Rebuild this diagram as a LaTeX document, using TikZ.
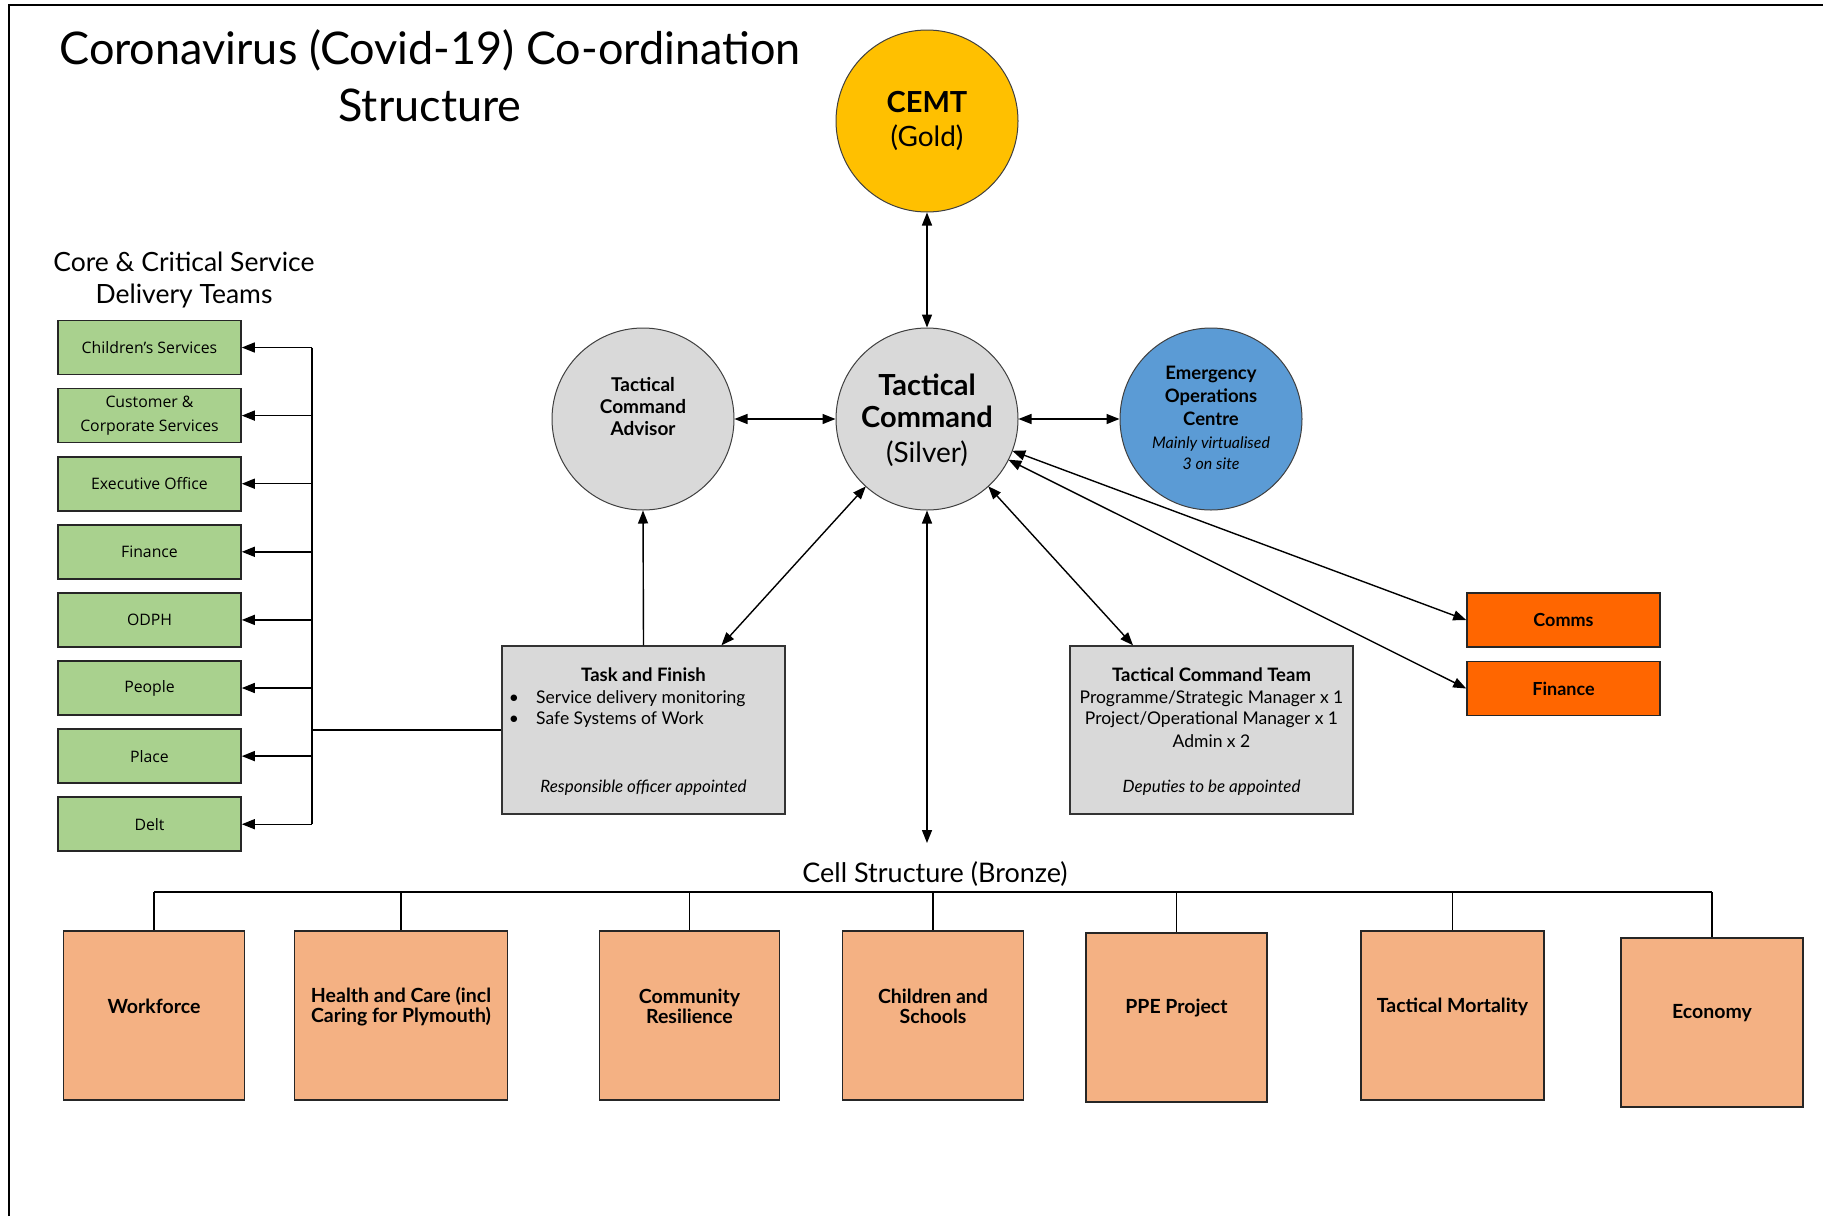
\documentclass[tikz,border=0pt]{standalone}
\usepackage{fontspec}
\setmainfont{Lato}
\newfontfamily\greenfont{Open Sans}
\usetikzlibrary{arrows.meta,calc}
\definecolor{cgold}{HTML}{FFC000}
\definecolor{csilver}{HTML}{D9D9D9}
\definecolor{cblue}{HTML}{5B9BD5}
\definecolor{cgreen}{HTML}{A9D18E}
\definecolor{corange}{HTML}{FF6600}
\definecolor{cbronze}{HTML}{F4B183}
\newcommand{\fs}[1]{\fontsize{#1}{#1}\selectfont}
\begin{document}
\begin{tikzpicture}[x=1pt,y=-1pt,
  conn/.style={line width=1.4pt, draw=black},
  arr/.style={conn,-{Triangle[length=13pt,width=10pt]}},
  darr/.style={conn,{Triangle[length=13pt,width=10pt]}-{Triangle[length=13pt,width=10pt]}},
  circ/.style={circle, draw=black!75, line width=1pt, minimum size=182pt, inner sep=0pt},
  txt/.style={anchor=base, inner sep=0pt},
  gbox/.style={draw=black!85, line width=1.6pt, fill=cgreen, minimum width=183pt, minimum height=54pt, inner sep=0pt, align=center, font=\greenfont\fontsize{15.8}{24}\selectfont},
  obox/.style={draw=black!85, line width=1.6pt, fill=corange, minimum width=193pt, minimum height=54pt, inner sep=0pt, font=\bfseries\fs{18}},
  bbox/.style={draw=black!85, line width=1.8pt, fill=cbronze, minimum width=181pt, minimum height=169pt, inner sep=0pt},
  btxt/.style={align=center, inner sep=0pt, font=\bfseries\fs{19.5}},
  gbox2/.style={draw=black!80, line width=1.4pt, fill=csilver, minimum width=283pt, minimum height=168pt, inner sep=0pt}
]
\useasboundingbox (0,0) rectangle (1823,1216);
\fill[white] (0,0) rectangle (1823,1216);
\draw[line width=2pt] (9,1216) -- (9,5) -- (1823,5);

% title
\node[txt, font=\fs{45}] (title1) at (430,64) {Coronavirus (Covid-19) Co-ordination};
\node[txt, font=\fs{45}] (title2) at (430,121) {Structure};

% circles
\node[circ, fill=cgold] (cemt) at (927,121) {};
\node[txt, font=\bfseries\fs{29}] (cemt1) at (927,112) {CEMT};
\node[txt, font=\fs{28}] (cemt2) at (927,146) {(Gold)};

\node[circ, fill=csilver] (tc) at (927,419) {};
\node[txt, font=\bfseries\fs{29}] (tc1) at (927,395) {Tactical};
\node[txt, font=\bfseries\fs{29}] (tc2) at (927,427) {Command};
\node[txt, font=\fs{28}] (tc3) at (927,462) {(Silver)};

\node[circ, fill=csilver] (adv) at (643,419) {};
\node[txt, font=\bfseries\fs{19}] (adv1) at (643,391) {Tactical};
\node[txt, font=\bfseries\fs{19}] (adv2) at (643,413) {Command};
\node[txt, font=\bfseries\fs{19}] (adv3) at (643,435) {Advisor};

\node[circ, fill=cblue] (eoc) at (1211,419) {};
\node[txt, font=\bfseries\fs{18.5}] (eoc1) at (1211,379) {Emergency};
\node[txt, font=\bfseries\fs{18.5}] (eoc2) at (1211,402) {Operations};
\node[txt, font=\bfseries\fs{18.5}] (eoc3) at (1211,425) {Centre};
\node[txt, font=\itshape\fs{16}] (eoc4) at (1211,448) {Mainly virtualised};
\node[txt, font=\itshape\fs{16}] (eoc5) at (1211,469) {3 on site};

% circle connectors
\draw[darr] (cemt.south) -- (tc.north);
\draw[darr] (adv.east) -- (tc.west);
\draw[darr] (tc.east) -- (eoc.west);

% core teams heading
\node[txt, font=\fs{26.5}] (core1) at (184,271) {Core \& Critical Service};
\node[txt, font=\fs{26.5}] (core2) at (184,303) {Delivery Teams};

% green boxes
\node[gbox] (g1) at (149.5,347.5) {Children’s Services};
\node[gbox] (g2) at (149.5,415.6) {Customer \&\\Corporate Services};
\node[gbox] (g3) at (149.5,483.7) {Executive Office};
\node[gbox] (g4) at (149.5,551.8) {Finance};
\node[gbox] (g5) at (149.5,619.9) {ODPH};
\node[gbox] (g6) at (149.5,688.0) {People};
\node[gbox] (g7) at (149.5,756.1) {Place};
\node[gbox] (g8) at (149.5,824.2) {Delt};

\coordinate (busx) at (312,0);
\draw[conn] (busx |- g1.east) -- (busx |- g8.east);
\foreach \g in {g1,g2,g3,g4,g5,g6,g7,g8}{
  \draw[arr] (busx |- \g.east) -- (\g.east);
}

% task and finish
\node[gbox2] (task) at (643.5,730) {};
\node[txt, font=\bfseries\fs{18.5}] (task1) at (643.5,681) {Task and Finish};
\node[txt, font=\fs{17.5}] (tb1) at (514,703) {•};
\node[txt, font=\fs{17.5}] (tb2) at (514,724) {•};
\node[txt, anchor=base west, font=\fs{17.5}] (task2) at (536,703) {Service delivery monitoring};
\node[txt, anchor=base west, font=\fs{17.5}] (task3) at (536,724) {Safe Systems of Work};
\node[txt, font=\itshape\fs{17}] (task4) at (643.5,792) {Responsible officer appointed};

\draw[conn] (task.west) -- (task.west -| busx);
\draw[arr] (task.north) -- (adv.south);
\coordinate (taskend) at ($(task.north west)!0.774!(task.north east)$);
\draw[darr] (taskend) -- ($(tc.center)!91pt!(taskend)$);

% tactical command team
\node[gbox2] (tct) at (1211.5,730) {};
\node[txt, font=\bfseries\fs{18.5}] (tct1) at (1211.5,681) {Tactical Command Team};
\node[txt, font=\fs{17.5}] (tct2) at (1211.5,703) {Programme/Strategic Manager x 1};
\node[txt, font=\fs{17.5}] (tct3) at (1211.5,724) {Project/Operational Manager x 1};
\node[txt, font=\fs{17.5}] (tct4) at (1211.5,747) {Admin x 2};
\node[txt, font=\itshape\fs{17}] (tct5) at (1211.5,792) {Deputies to be appointed};
\coordinate (tctend) at ($(tct.north west)!0.224!(tct.north east)$);
\draw[darr] (tctend) -- ($(tc.center)!91pt!(tctend)$);

% comms / finance
\node[obox] (comms) at (1563.5,620) {Comms};
\node[obox] (fin) at (1563.5,688.5) {Finance};
\draw[darr] ($(tc.center)!91pt!(comms.west)$) -- (comms.west);
\draw[darr] ($(tc.center)!91pt!(fin.west)$) -- (fin.west);

% vertical to cell structure
\coordinate (cellend) at (927,843);
\draw[darr] (tc.south) -- (cellend);
\node[txt, font=\fs{27}] (cell) at (935,882) {Cell Structure (Bronze)};

% bronze boxes
\node[bbox] (b1) at (154,1015.5) {};
\node[bbox, minimum width=213pt] (b2) at (401,1015.5) {};
\node[bbox, minimum width=180pt] (b3) at (689.5,1015.5) {};
\node[bbox] (b4) at (933,1015.5) {};
\node[bbox] (b5) at (1176.5,1017.5) {};
\node[bbox, minimum width=183pt] (b6) at (1452.5,1015.5) {};
\node[bbox, minimum width=182pt] (b7) at (1712,1022.5) {};
\node[btxt] (bt1) at ($(b1.center)+(0,-9)$) {Workforce};
\node[btxt] (bt2) at ($(b2.center)+(0,-9)$) {Health and Care (incl\\Caring for Plymouth)};
\node[btxt] (bt3) at ($(b3.center)+(0,-9)$) {Community\\Resilience};
\node[btxt] (bt4) at ($(b4.center)+(0,-9)$) {Children and\\Schools};
\node[btxt] (bt5) at ($(b5.center)+(0,-9)$) {PPE Project};
\node[btxt] (bt6) at ($(b6.center)+(0,-9)$) {Tactical Mortality};
\node[btxt] (bt7) at ($(b7.center)+(0,-9)$) {Economy};

\coordinate (cellbus) at (0,892);
\draw[conn] (b1.north |- cellbus) -- (b7.north |- cellbus);
\foreach \b in {b1,b2,b3,b4,b5,b6,b7}{
  \draw[conn] (\b.north |- cellbus) -- (\b.north);
}
\end{tikzpicture}
\end{document}
